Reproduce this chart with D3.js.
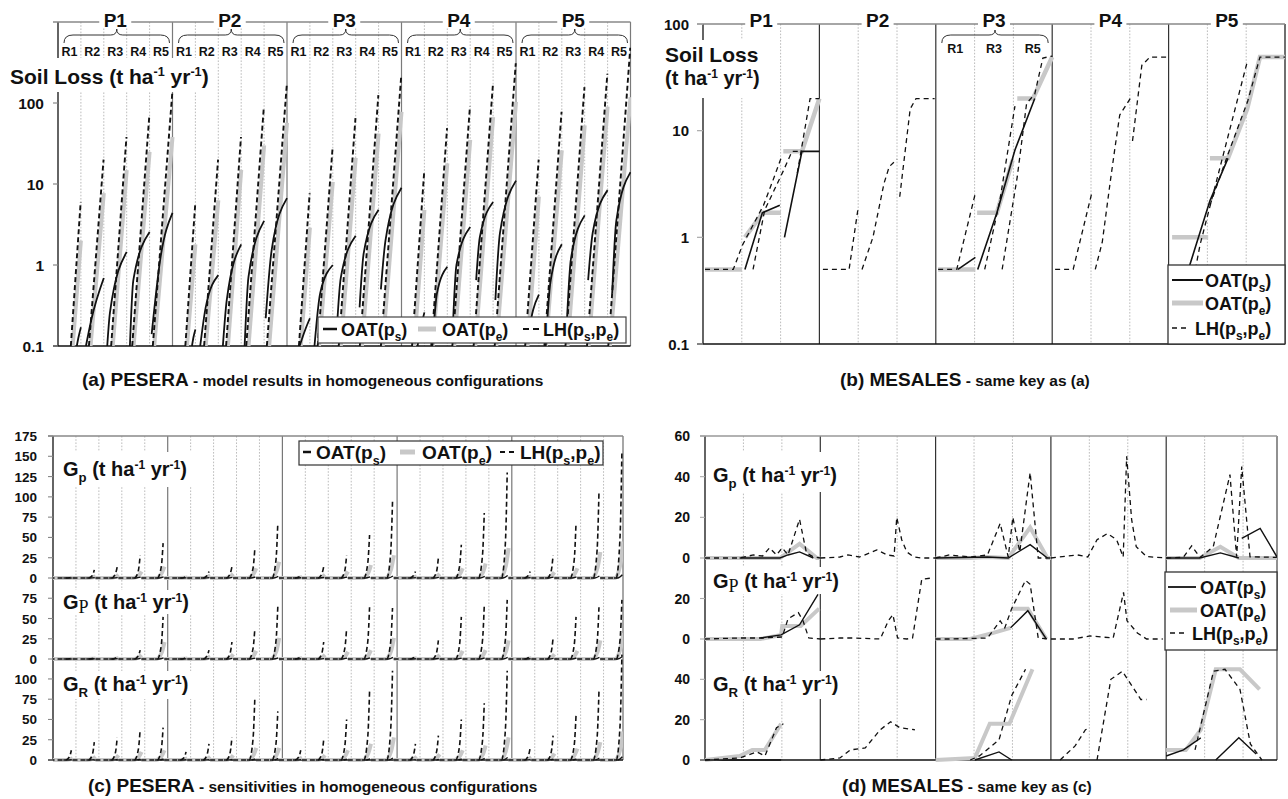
<!DOCTYPE html>
<html><head><meta charset="utf-8">
<script src="https://cdn.jsdelivr.net/npm/d3@7"></script>
<style>body{margin:0;background:#fff}</style>
</head><body>
<script>
// ================= DATA =================
const P = ['P1','P2','P3','P4','P5'];
const R = ['R1','R2','R3','R4','R5'];
const RB = ['R1','R3','R5'];
const logTicks = [0.1, 1, 10, 100];
const logTickLabels = ['0.1','1','10','100'];

// (a) PESERA soil loss: per P, per R
// LH: [start fraction (value 0.1), end value]
const aLH = [
 [[.56,6],[.35,20],[.32,38],[.24,71],[.14,133]],
 [[.56,5.5],[.38,20],[.34,38],[.22,90],[.12,166]],
 [[.52,7.7],[.34,28],[.26,65],[.18,125],[.10,220]],
 [[.46,14],[.30,49],[.22,91],[.15,166],[.07,310]],
 [[.40,20],[.24,78],[.16,157],[.10,230],[.03,480]]
];
// OAT(pe): [start fraction, end value]
const aPE = [
 [[.64,2.0],[.42,7.7],[.39,14.8],[.30,25],[.20,38]],
 [[.63,1.8],[.45,6.3],[.42,15],[.32,30],[.22,57]],
 [[.60,2.9],[.40,10.6],[.35,21],[.27,42],[.18,78]],
 [[.55,4.8],[.36,18],[.30,35],[.22,67],[.14,103]],
 [[.50,7],[.30,26],[.25,53],[.17,90],[.10,118]]
];
// OAT(ps): three [fraction, value] points
const aPS = [
 [[[.82,.1],[.9,.13],[1,.17]],[[.22,.1],[.47,.22],[1,.69]],[[.15,.1],[.27,.26],[1,1.45]],[[.14,.1],[.29,.65],[1,2.55]],[[.09,.14],[.46,1.15],[1,4.4]]],
 [[[.85,.1],[.92,.13],[1,.16]],[[.21,.1],[.45,.3],[1,.75]],[[.2,.1],[.37,.37],[1,1.8]],[[.15,.1],[.32,.72],[1,3.5]],[[.07,.22],[.33,1.53],[1,6.7]]],
 [[[.55,.1],[.8,.16],[1,.22]],[[.2,.1],[.45,.45],[1,1.0]],[[.15,.12],[.35,.7],[1,2.3]],[[.17,.3],[.35,1.4],[1,4.8]],[[.1,.5],[.3,2.0],[1,9]]],
 [[[.7,.1],[.85,.17],[1,.26]],[[.35,.1],[.55,.45],[1,.95]],[[.22,.12],[.4,1.0],[1,2.95]],[[.26,.65],[.42,2.2],[1,6]],[[.1,.37],[.3,2.5],[1,11]]],
 [[[.55,.15],[.75,.28],[1,.43]],[[.3,.1],[.5,.6],[1,1.8]],[[.2,.15],[.4,1.2],[1,4.1]],[[.15,.65],[.35,2.5],[1,8.4]],[[.2,.45],[.38,3.5],[1,14]]]
];

// (b) MESALES soil loss: per P, list of segments of [fraction of P, value]
const bPS = [
 [[[.36,.5],[.51,1.7],[.66,2.0]], [[.70,1.0],[.85,6.4],[1.0,6.4]]],
 [],
 [[[.19,.5],[.34,.65]], [[.36,.5],[.525,1.7],[.68,6.6],[.85,20]]],
 [],
 [[[.17,.5],[.355,2.2],[.51,5.5]]]
];
const bPE = [
 [[[.017,.5],[.335,.5]], [[.36,1.0],[.515,1.7],[.67,1.7]], [[.69,6.4],[.85,6.4],[1.0,20]]],
 [],
 [[[.02,.5],[.34,.5]], [[.355,1.7],[.525,1.7],[.66,5.3]], [[.70,20],[.835,20],[1.0,49]]],
 [],
 [[[.03,1.0],[.34,1.0]], [[.355,5.5],[.51,5.5],[.675,16],[.785,49],[1.0,49]]]
];
const bLH = [
 [[[.017,.5],[.26,.5],[.34,.85],[.52,2.0],[.60,3.4],[.68,5.9]], [[.43,.5],[.53,1.8],[.69,4.2],[.765,6.4],[.85,6.4]], [[.81,4.0],[.92,20],[1.0,20]]],
 [[[.03,.5],[.255,.5],[.33,1.8]], [[.366,.5],[.46,1.0],[.555,3.2],[.60,4.6],[.667,5.4]], [[.69,2.4],[.78,16],[.83,20],[.99,20]]],
 [[[.02,.5],[.18,.5],[.34,2.6]], [[.42,.5],[.55,2.2],[.68,17]], [[.57,.5],[.70,3.7],[.78,18],[.85,22],[.92,48],[1.0,50]]],
 [[[.025,.5],[.18,.5],[.34,2.6]], [[.37,.5],[.43,.9],[.50,3.4],[.54,7],[.58,14],[.67,20]], [[.69,8],[.77,41],[.84,49],[.99,49]]],
 [[[.23,.5],[.27,.85],[.675,44]], [[.355,2.0],[.51,6],[.68,19],[.785,49],[1.0,49]]]
];

// (c) PESERA sensitivities: per P, per R  (max value and knee value)
const cGpLH  = [[1,10,14,28,43],[2,8,14,37,68],[4,14,28,53,94],[8,25,41,80,130],[8,28,68,106,157]];
const cGpLHk = [[0.3,3,5,9,14],[0.7,3,5,12,22],[1.3,5,9,18,31],[3,8,14,27,43],[3,9,22,35,52]];
const cGpPE  = [[0.3,2,4,8,14],[0.5,3,5,12,20],[1,4,8,16,28],[2,5,12,18,37],[2,7,12,32,45]];
const cGpPEk = [[0.1,0.8,1.6,3,6],[0.2,1.2,2,5,8],[0.4,1.6,3,6,11],[0.8,2,5,7,15],[0.8,3,5,13,18]];
const cGpPS  = [[0,0.5,0.5,1,1.5],[0.2,0.5,0.8,1.2,2],[0.3,0.6,1,1.5,2.5],[0.4,0.8,1.2,2,3],[0.5,1,1.5,2.5,4]];
const cGPLH  = [[1,1.5,3,11,52],[2,11,21,38,65],[4,21,38,64,63],[5,23,52,66,73],[5,26,52,64,73]];
const cGPLHk = [[0.3,0.5,1,4,17],[0.7,4,7,13,22],[1.3,7,13,21,21],[1.7,8,17,22,24],[1.7,9,17,21,24]];
const cGPPE  = [[0.3,0.5,1,5,21],[0.5,3,6,10,26],[1,5,9,11,26],[1,5,10,11,23],[1,6,10,23,32]];
const cGPPEk = [[0.1,0.2,0.4,2,8],[0.2,1.2,2.4,4,10],[0.4,2,3.6,4.4,10],[0.4,2,4,4.4,9],[0.4,2.4,4,9,13]];
const cGPPS  = [[0,0.3,0.5,0.8,1.5],[0.2,0.5,0.8,1,1.5],[0.3,0.5,1,1.5,2],[0.3,0.6,1,1.5,2],[0.3,0.8,1.2,2,3]];
const cGRLH  = [[12,22,28,38,40],[10,20,28,78,60],[12,25,50,85,110],[20,30,50,70,110],[15,30,55,85,130]];
const cGRLHk = [[4,7,9,13,13],[3,7,9,26,20],[4,8,17,28,37],[7,10,17,23,37],[5,10,18,28,43]];
const cGRPE  = [[2,4,6,10,12],[2,4,6,15,15],[3,6,12,20,28],[4,7,12,18,28],[3,8,14,22,35]];
const cGRPEk = [[0.8,1.6,2.4,4,5],[0.8,1.6,2.4,6,6],[1.2,2.4,5,8,11],[1.6,3,5,7,11],[1.2,3,6,9,14]];
const cGRPS  = [[0.3,0.5,0.8,1,1.5],[0.3,0.5,0.8,1.5,2],[0.3,0.6,1,1.5,2.5],[0.4,0.8,1.2,2,3],[0.5,1,1.5,2.5,4]];
const cTicksGp = [0,25,50,75,100,125,150,175];
const cTicksGP = [0,25,50,75];
const cTicksGR = [0,25,50,75,100];

// (d) MESALES sensitivities: per P, list of segments [fraction of P, value]
const dGpLH = [
 [[[0,0],[.30,0],[.42,1.5],[.50,1],[.56,5],[.62,1.5],[.67,5],[.72,1.5],[.82,19],[.88,2.5],[.94,0.5],[1,0]]],
 [[[0,0],[.17,0.5],[.24,1.5],[.34,0.5],[.43,2.5],[.49,4],[.58,1.5],[.64,1],[.663,20],[.706,9],[.75,3],[.81,0.5],[.87,0],[1,0]]],
 [[[0,0],[.12,1.5],[.30,0.5],[.45,1.5],[.56,17],[.63,0.5],[.67,20],[.73,3],[.82,42],[.89,0],[1,0]]],
 [[[0,0],[.23,1.5],[.32,0.5],[.40,9],[.49,12],[.57,9],[.627,0.5],[.657,50],[.70,19],[.74,5.6],[.83,0.7],[1,0]]],
 [[[0,0],[.148,0.3],[.221,6],[.293,0.3],[.408,5.5],[.553,41],[.611,0.6],[.655,45],[.727,0.6],[.96,0.3]]]
];
const dGpPE = [
 [[[0,0],[.65,0],[.82,7],[.97,0],[1,0]]],
 [],
 [[[0,0],[.30,0],[.45,0.5],[.63,0],[.82,15],[.97,0],[1,0]]],
 [],
 [[[0,0],[.29,0],[.47,5.5],[.63,0],[.96,0]]]
];
const dGpPS = [
 [[[.30,0],[.65,0],[.72,1.5],[.82,3],[.94,0]]],
 [],
 [[[0,0],[.45,0.5],[.63,0],[.82,6.6],[.97,0]]],
 [],
 [[[0,0],[.29,0],[.47,2.5],[.63,0]], [[.655,9.7],[.815,14.6],[.96,0.6]]]
];
const dGPLH = [
 [[[0,0],[.30,0.5],[.50,0.5],[.67,1],[.72,10],[.81,13],[.85,9],[.90,0.5],[1,0]]],
 [[[0,0],[.17,0.5],[.28,0.5],[.52,0],[.59,9],[.63,12],[.67,0.5],[.75,0],[.80,0.5],[.88,29.5],[.95,30]]],
 [[[0,0],[.12,0],[.45,0.5],[.56,9],[.60,5.5],[.66,15],[.78,29],[.82,27],[.89,0.5],[.97,0],[1,0]]],
 [[[0,0],[.19,0],[.34,1.5],[.54,0.5],[.63,23],[.66,9],[.75,3],[.83,0],[.97,0]]],
 []
];
const dGPPE = [
 [[[0,0],[.48,0],[.66,2],[.67,6.4],[.83,6.4],[.99,15]]],
 [],
 [[[0,0],[.30,0],[.50,3],[.65,5.5]], [[.66,15],[.80,15],[.96,0]]],
 [],
 []
];
const dGPPS = [
 [[[.48,0.5],[.66,2],[.82,7],[.98,22]]],
 [],
 [[[.65,5.5],[.80,14],[.96,0]]],
 [],
 []
];
const dGRLH = [
 [[[0,0],[.30,1],[.45,4],[.52,2],[.62,16],[.68,18]]],
 [[[0,0],[.17,1],[.26,5],[.39,6],[.52,15],[.61,19],[.69,16],[.82,15]]],
 [[[.30,0],[.38,2],[.55,10],[.66,32],[.78,45]]],
 [[[.08,0],[.21,7],[.30,15],[.34,16]], [[.40,0],[.52,40],[.62,44],[.78,30],[.83,30]]],
 [[[.25,5],[.41,44],[.51,45],[.64,35],[.73,8],[.83,0]]]
];
const dGRPE = [
 [[[0,0],[.30,2],[.41,5],[.52,5],[.66,18]]],
 [],
 [[[0,0],[.34,1],[.47,18],[.64,18],[.84,45]]],
 [],
 [[[0,5],[.17,5],[.30,15],[.43,45],[.64,45],[.81,35]]]
];
const dGRPS = [
 [[[0,0],[.66,0]]],
 [],
 [[[.34,0],[.55,4],[.66,0]]],
 [],
 [[[0,2],[.15,5],[.30,11]], [[.43,0],[.63,11],[.78,3]]]
];
const dTicksGp = [0,20,40,60];
const dTicksGP = [0,20];
const dTicksGR = [0,20,40];

// ================= DRAWING =================
const FONT = '"Liberation Sans", Arial, Helvetica, sans-serif';
const svg = d3.select('body').append('svg').attr('width',1288).attr('height',799)
  .style('font-family',FONT);
const defs = svg.append('defs');
function clip(id,x,y,w,h){ defs.append('clipPath').attr('id',id).append('rect')
  .attr('x',x).attr('y',y).attr('width',w).attr('height',h); return `url(#${id})`; }

const STY = {
  ps:{stroke:'#111','stroke-width':1.6,fill:'none'},
  pe:{stroke:'#c8c8c8','stroke-width':4,fill:'none','stroke-linecap':'butt'},
  lh:{stroke:'#111','stroke-width':1.6,'stroke-dasharray':'5,3.5',fill:'none'}
};
function styl(sel,s,extra){ for(const k in s) sel.attr(k,s[k]); if(extra) for(const k in extra) sel.attr(k,extra[k]); return sel; }
function vline(g,x,y1,y2,c,w,dash){ const l=g.append('line').attr('x1',x).attr('x2',x).attr('y1',y1).attr('y2',y2).attr('stroke',c).attr('stroke-width',w); if(dash) l.attr('stroke-dasharray',dash); return l; }
function hline(g,x1,x2,y,c,w,dash){ const l=g.append('line').attr('x1',x1).attr('x2',x2).attr('y1',y).attr('y2',y).attr('stroke',c).attr('stroke-width',w); if(dash) l.attr('stroke-dasharray',dash); return l; }
function wbox(g,x,y,w,h){ g.append('rect').attr('x',x).attr('y',y).attr('width',w).attr('height',h).attr('fill','#fff'); }

function rich(g,x,y,parts,size,anchor){
  const t=g.append('text').attr('x',x).attr('y',y).attr('font-size',size)
    .attr('font-weight','bold').attr('fill','#111').attr('text-anchor',anchor||'start');
  let cur=0;
  parts.forEach(p=>{
    const s=Array.isArray(p)?p[0]:p, k=Array.isArray(p)?p[1]:'n';
    let off=0, fs=size;
    if(k==='sub'){off=size*0.3; fs=size*0.66;}
    else if(k==='sup'){off=-size*0.36; fs=size*0.6;}
    else if(k==='subS'){off=size*0.2; fs=size*0.9;}
    const ts=t.append('tspan').attr('font-size',fs).attr('dy',off-cur).text(s);
    if(k==='subS') ts.attr('font-family','"Liberation Serif","Times New Roman",serif').attr('font-weight','normal');
    cur=off;
  });
  return t;
}
function caption(g,x,y,big,small){
  const t=g.append('text').attr('x',x).attr('y',y).attr('font-weight','bold').attr('fill','#111');
  t.append('tspan').attr('font-size',19).text(big);
  t.append('tspan').attr('font-size',15.5).text(' - '+small);
}
const UNIT=[' (t ha',['-1','sup'],' yr',['-1','sup'],')'];
const L_PS=['OAT(p',['s','sub'],')'];
const L_PE=['OAT(p',['e','sub'],')'];
const L_LH=['LH(p',['s','sub'],',p',['e','sub'],')'];

function brace(g,x1,x2,yb,ym,yt){
  const cx=(x1+x2)/2;
  g.append('path').attr('fill','none').attr('stroke','#333').attr('stroke-width',1)
   .attr('d',`M${x1},${yb} Q${x1},${ym} ${x1+9},${ym} L${cx-6},${ym} Q${cx},${ym} ${cx},${yt} Q${cx},${ym} ${cx+6},${ym} L${x2-9},${ym} Q${x2},${ym} ${x2},${yb}`);
}

// ---------------- PANEL A ----------------
(function(){
  const g=svg.append('g');
  const xA=d3.scaleLinear().domain([0,25]).range([58,630.5]);
  const yA=d3.scaleLog().domain([0.1,1000]).range([346,22]);
  d3.range(1,25).filter(i=>i%5).forEach(i=>vline(g,xA(i),22,346,'#b4b4b4',0.9,'1.6,1.6'));
  d3.range(1,6).forEach(i=>vline(g,xA(i*5),22,346,'#7a7a7a',1.2));
  vline(g,58,22,346,'#111',1.3);
  hline(g,53,630.5,22,'#888',1.5);
  hline(g,53,630.5,346,'#111',1.5);
  logTicks.forEach(v=>hline(g,53,58,yA(v),'#888',1.2));

  const gd=g.append('g').attr('clip-path',clip('cA',58,22,573,324.5));
  const lin=d3.line().x(d=>xA(d[0])).y(d=>yA(d[1]));
  const mon=d3.line().x(d=>xA(d[0])).y(d=>yA(d[1])).curve(d3.curveMonotoneX);
  P.forEach((_,p)=>R.forEach((_,r)=>{
    const b=p*5+r, [s,v]=aPE[p][r];
    styl(gd.append('path').attr('d',lin([[b+s,0.1],[b+1,v]])),STY.pe);
  }));
  P.forEach((_,p)=>R.forEach((_,r)=>{
    const b=p*5+r;
    styl(gd.append('path').attr('d',mon(aPS[p][r].map(d=>[b+d[0],d[1]]))),STY.ps,{'stroke-width':1.8});
  }));
  P.forEach((_,p)=>R.forEach((_,r)=>{
    const b=p*5+r, [s,v]=aLH[p][r];
    styl(gd.append('path').attr('d',lin([[b+s,0.1],[b+0.99,v]])),STY.lh,{'stroke-width':1.9,'stroke-dasharray':'5,3'});
  }));

  P.forEach((name,p)=>{
    const cx=xA(p*5+2.5);
    wbox(g,cx-16,12,32,16);
    g.append('text').attr('x',cx).attr('y',27).attr('text-anchor','middle').attr('font-size',19)
      .attr('font-weight','bold').attr('fill','#111').text(name);
    brace(g,xA(p*5)+6,xA(p*5+5)-3,43,35,29);
    R.forEach((rn,r)=>g.append('text').attr('x',xA(p*5+r+0.5)).attr('y',56).attr('text-anchor','middle')
      .attr('font-size',12.5).attr('font-weight','bold').attr('fill','#111').text(rn));
  });
  wbox(g,4,58,210,34);
  rich(g,10,84,['Soil Loss',...UNIT],21);
  logTicks.forEach((v,i)=>g.append('text').attr('x',44).attr('y',yA(v)+5.5).attr('text-anchor','end')
    .attr('font-size',15.5).attr('font-weight','bold').attr('fill','#111').text(logTickLabels[i]));

  g.append('rect').attr('x',318).attr('y',317).attr('width',308).attr('height',26).attr('fill','#fff').attr('stroke','#444').attr('stroke-width',1.2);
  styl(g.append('path').attr('d',`M323,329H337`),STY.ps,{'stroke-width':2.5});
  rich(g,341,336,L_PS,18);
  styl(g.append('path').attr('d',`M418,329H436`),STY.pe,{'stroke-width':5});
  rich(g,442,336,L_PE,18);
  styl(g.append('path').attr('d',`M523,329H539`),STY.lh,{'stroke-width':2.2,'stroke-dasharray':'6,4'});
  rich(g,543,336,L_LH,18);

  caption(g,82,386,'(a) PESERA','model results in homogeneous configurations');
})();

// ---------------- PANEL B ----------------
(function(){
  const g=svg.append('g');
  const xB=d3.scaleLinear().domain([0,5]).range([703,1285]);
  const yB=d3.scaleLog().domain([0.1,100]).range([344,24]);
  for(let p=0;p<5;p++){ [1,2].forEach(k=>vline(g,xB(p+k/3),24,344,'#b4b4b4',0.9,'1.6,1.6')); }
  d3.range(1,5).forEach(i=>vline(g,xB(i),24,344,'#333',1.2));
  vline(g,1285,24,344,'#333',1.4);
  vline(g,703,24,344,'#111',1.3);
  hline(g,697,1285,24,'#888',1.5);
  hline(g,697,1285,344,'#111',1.5);
  logTicks.forEach(v=>hline(g,697,703,yB(v),'#aaa',1.2));

  const gd=g.append('g').attr('clip-path',clip('cB',703,24,582,320.5));
  const lin=d3.line().x(d=>xB(d[0])).y(d=>yB(d[1]));
  const draw=(arr,sty,extra)=>arr.forEach((segs,p)=>segs.forEach(seg=>
    styl(gd.append('path').attr('d',lin(seg.map(d=>[p+d[0],d[1]]))),sty,extra)));
  draw(bPE,STY.pe,{'stroke-width':4.5});
  draw(bPS,STY.ps,{'stroke-width':1.6});
  draw(bLH,STY.lh,{'stroke-width':1.3,'stroke-dasharray':'5,4'});

  P.forEach((name,p)=>{
    const cx=xB(p+0.5);
    wbox(g,cx-16,12,32,16);
    g.append('text').attr('x',cx).attr('y',27).attr('text-anchor','middle').attr('font-size',19)
      .attr('font-weight','bold').attr('fill','#111').text(name);
  });
  brace(g,xB(2)+6,xB(3)-4,43,35,30);
  RB.forEach((rn,i)=>g.append('text').attr('x',xB(2+(i+0.5)/3)).attr('y',53).attr('text-anchor','middle')
      .attr('font-size',12.5).attr('font-weight','bold').attr('fill','#111').text(rn));
  wbox(g,660,40,115,58);
  rich(g,665,62,['Soil Loss'],21);
  rich(g,665,85,UNIT.map((d,i)=>i===0?'(t ha':d),20);
  logTicks.forEach((v,i)=>g.append('text').attr('x',689).attr('y',yB(v)+5.5).attr('text-anchor','end')
    .attr('font-size',15).attr('font-weight','bold').attr('fill','#111').text(logTickLabels[i]));

  g.append('rect').attr('x',1168).attr('y',265).attr('width',117).attr('height',79).attr('fill','#fff').attr('stroke','#333').attr('stroke-width',1.3);
  styl(g.append('path').attr('d','M1172,280H1203'),STY.ps,{'stroke-width':2});
  rich(g,1205,287,L_PS,18);
  styl(g.append('path').attr('d','M1172,303H1203'),STY.pe,{'stroke-width':5});
  rich(g,1205,310,L_PE,18);
  styl(g.append('path').attr('d','M1172,328H1190'),STY.lh,{'stroke-width':1.4,'stroke-dasharray':'5,4'});
  rich(g,1195,335,L_LH,18);

  caption(g,840,386,'(b) MESALES','same key as (a)');
})();

// ---------------- PANEL C ----------------
(function(){
  const g=svg.append('g');
  const xC=d3.scaleLinear().domain([0,25]).range([53,626.5]);
  const ys=[d3.scaleLinear().domain([0,175]).range([578,436]),
            d3.scaleLinear().domain([0,100]).range([659,578]),
            d3.scaleLinear().domain([0,124.6]).range([760,659])];
  d3.range(1,25).filter(i=>i%5).forEach(i=>vline(g,xC(i),436,760,'#b4b4b4',0.9,'1.6,1.6'));
  d3.range(1,5).forEach(i=>vline(g,xC(i*5),436,760,'#777',1.2));
  vline(g,623,436,760,'#777',1.3);
  vline(g,53,436,760,'#111',1.3);
  hline(g,48,623,436,'#888',1.4);
  hline(g,48,623,760,'#111',1.5);

  const gd=g.append('g').attr('clip-path',clip('cC',53,430,570,333));
  const subs=[[cGpLH,cGpLHk,cGpPE,cGpPEk,cGpPS],[cGPLH,cGPLHk,cGPPE,cGPPEk,cGPPS],[cGRLH,cGRLHk,cGRPE,cGRPEk,cGRPS]];
  subs.forEach((S,si)=>{
    const y=ys[si];
    const mon=d3.line().x(d=>xC(d[0])).y(d=>y(d[1])).curve(d3.curveMonotoneX);
    const [lh,lhk,pe,pek,ps]=S;
    P.forEach((_,p)=>R.forEach((_,r)=>{
      const b=p*5+r;
      styl(gd.append('path').attr('d',mon([[b-0.15,0],[b+0.5,0],[b+0.74,pek[p][r]],[b+0.86,pe[p][r]]])),STY.pe,{'stroke-width':4});
    }));
    P.forEach((_,p)=>R.forEach((_,r)=>{
      const b=p*5+r;
      styl(gd.append('path').attr('d',mon([[b+0.45,0],[b+0.62,0],[b+0.82,ps[p][r]]])),STY.ps,{'stroke-width':1.4});
    }));
    P.forEach((_,p)=>R.forEach((_,r)=>{
      const b=p*5+r;
      styl(gd.append('path').attr('d',mon([[b-0.15,0],[b+0.55,0],[b+0.72,lhk[p][r]],[b+0.80,lh[p][r]]])),STY.lh,{'stroke-width':1.6,'stroke-dasharray':'5,3'});
    }));
  });

  const tk=[cTicksGp,cTicksGP,cTicksGR];
  tk.forEach((arr,si)=>arr.forEach(v=>{
    hline(g,48,53,ys[si](v),'#888',1.1);
    g.append('text').attr('x',37).attr('y',ys[si](v)+5).attr('text-anchor','end').attr('font-size',13.5)
      .attr('font-weight','bold').attr('fill','#111').text(v);
  }));
  wbox(g,58,452,142,35); rich(g,63,476,['G',['p','sub'],...UNIT],20);
  wbox(g,58,590,142,24); rich(g,63,609,['G',['P','subS'],...UNIT],20);
  wbox(g,58,671,142,28); rich(g,63,691,['G',['R','sub'],...UNIT],20);

  g.append('rect').attr('x',299).attr('y',441).attr('width',304).attr('height',24).attr('fill','#fff').attr('stroke','#333').attr('stroke-width',1.2);
  styl(g.append('path').attr('d','M303,452H311'),STY.ps,{'stroke-width':2.5});
  rich(g,316,459,L_PS,19);
  styl(g.append('path').attr('d','M400,452H415'),STY.pe,{'stroke-width':5});
  rich(g,422,459,L_PE,19);
  styl(g.append('path').attr('d','M500,452H517'),STY.lh,{'stroke-width':2,'stroke-dasharray':'5,4'});
  rich(g,520,459,L_LH,19);

  caption(g,88,792,'(c) PESERA','sensitivities in homogeneous configurations');
})();

// ---------------- PANEL D ----------------
(function(){
  const g=svg.append('g');
  const xD=d3.scaleLinear().domain([0,5]).range([705,1281.5]);
  const ys=[d3.scaleLinear().domain([0,60]).range([558,436]),
            d3.scaleLinear().domain([0,40]).range([639,558]),
            d3.scaleLinear().domain([0,60]).range([760,639])];
  for(let p=0;p<5;p++){ [1,2].forEach(k=>vline(g,xD(p+k/3),436,760,'#b4b4b4',0.9,'1.6,1.6')); }
  d3.range(1,5).forEach(i=>vline(g,xD(i),436,760,'#333',1.2));
  vline(g,1277,436,760,'#555',1.3);
  vline(g,705,436,760,'#111',1.3);
  hline(g,700,1277,436,'#999',1.4);
  hline(g,700,1277,760,'#111',1.5);

  const gd=g.append('g').attr('clip-path',clip('cD',705,430,572,333));
  const subs=[[dGpPE,dGpPS,dGpLH],[dGPPE,dGPPS,dGPLH],[dGRPE,dGRPS,dGRLH]];
  subs.forEach((S,si)=>{
    const lin=d3.line().x(d=>xD(d[0])).y(d=>ys[si](d[1]));
    const draw=(arr,sty,extra)=>arr.forEach((segs,p)=>segs.forEach(seg=>
      styl(gd.append('path').attr('d',lin(seg.map(d=>[p+d[0],d[1]]))),sty,extra)));
    draw(S[0],STY.pe,{'stroke-width':4});
    draw(S[1],STY.ps,{'stroke-width':1.4});
    draw(S[2],STY.lh,{'stroke-width':1.3,'stroke-dasharray':'5,4'});
  });

  const tk=[dTicksGp,dTicksGP,dTicksGR];
  tk.forEach((arr,si)=>arr.forEach(v=>{
    hline(g,700,705,ys[si](v),'#aaa',1.1);
    g.append('text').attr('x',690).attr('y',ys[si](v)+5).attr('text-anchor','end').attr('font-size',14)
      .attr('font-weight','bold').attr('fill','#111').text(v);
  }));
  wbox(g,709,452,142,40); rich(g,713,482,['G',['p','sub'],...UNIT],20);
  wbox(g,709,567,142,27); rich(g,713,588,['G',['P','subS'],...UNIT],20);
  wbox(g,709,671,142,28); rich(g,713,691,['G',['R','sub'],...UNIT],20);

  g.append('rect').attr('x',1165).attr('y',572).attr('width',112).attr('height',78).attr('fill','#fff').attr('stroke','#333').attr('stroke-width',1.3);
  styl(g.append('path').attr('d','M1168,587H1196'),STY.ps,{'stroke-width':1.8});
  rich(g,1200,594,L_PS,18);
  styl(g.append('path').attr('d','M1170,610H1197'),STY.pe,{'stroke-width':5});
  rich(g,1200,617,L_PE,18);
  styl(g.append('path').attr('d','M1170,633H1186'),STY.lh,{'stroke-width':1.3,'stroke-dasharray':'5,4'});
  rich(g,1192,640,L_LH,18);

  caption(g,842,792,'(d) MESALES','same key as (c)');
})();
</script>
</body></html>
